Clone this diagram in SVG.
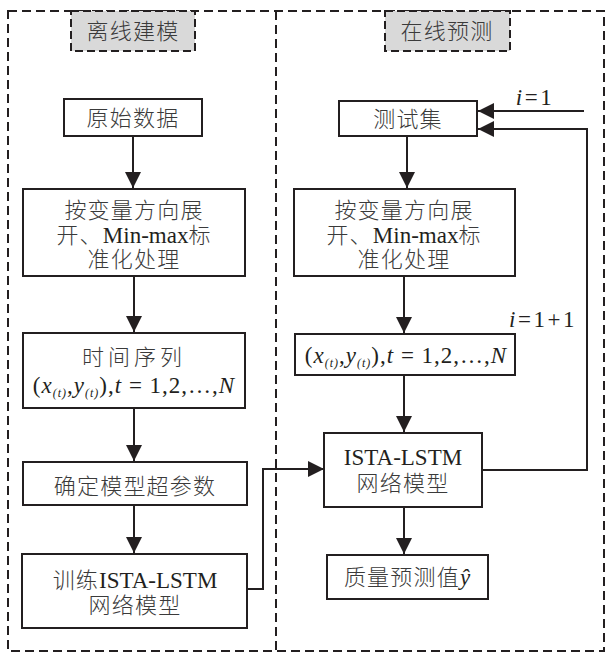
<svg xmlns="http://www.w3.org/2000/svg" width="606" height="653" viewBox="0 0 606 653">
<style>
.frame{fill:none;stroke:#231f20;stroke-width:2;stroke-dasharray:9 5}
.title{fill:#d9d9d9;stroke:#231f20;stroke-width:2;stroke-dasharray:8 4}
.box{fill:#fff;stroke:#231f20;stroke-width:2}
.line{fill:none;stroke:#231f20;stroke-width:2}
.cn{font-family:"Liberation Serif","Noto Sans CJK SC",serif;font-size:22px;font-weight:300;fill:#3a3a3a;text-anchor:middle;letter-spacing:1.2px}
.lat{font-family:"Liberation Serif","Noto Sans CJK SC",serif;font-size:23px;font-weight:400;fill:#231f20;text-anchor:middle}
.f{letter-spacing:1px}
.g{letter-spacing:2.5px}
.it{font-style:italic}
.sub{font-size:12px;font-style:italic}
</style>
<defs>
<marker id="arr" markerUnits="userSpaceOnUse" markerWidth="17" markerHeight="16" refX="16" refY="8" orient="auto">
<path d="M0,0 L16,8 L0,16 z" fill="#231f20"/>
</marker>
</defs>
<g id="frames">
<rect class="frame" x="8" y="11" width="596" height="640"/>
<line class="frame" x1="276" y1="11" x2="276" y2="651"/>
</g>
<g id="title-offline">
<rect class="title" x="71" y="11" width="124" height="40"/>
<text class="cn" x="133" y="39">离线建模</text>
</g>
<g id="title-online">
<rect class="title" x="385" y="11" width="125" height="40"/>
<text class="cn" x="447" y="39">在线预测</text>
</g>
<g id="connectors">
<line class="line" x1="133" y1="136" x2="133" y2="188" marker-end="url(#arr)"/>
<line class="line" x1="134" y1="276" x2="134" y2="332" marker-end="url(#arr)"/>
<line class="line" x1="134" y1="408" x2="134" y2="461" marker-end="url(#arr)"/>
<line class="line" x1="134" y1="505" x2="134" y2="553" marker-end="url(#arr)"/>
<polyline class="line" points="247,589 263,589 263,469 324,469" marker-end="url(#arr)"/>
<line class="line" x1="407" y1="136" x2="407" y2="188" marker-end="url(#arr)"/>
<line class="line" x1="404" y1="276" x2="404" y2="333" marker-end="url(#arr)"/>
<line class="line" x1="404" y1="375" x2="404" y2="432" marker-end="url(#arr)"/>
<line class="line" x1="404" y1="507" x2="404" y2="554" marker-end="url(#arr)"/>
<line class="line" x1="584" y1="111" x2="478" y2="111" marker-end="url(#arr)"/>
<polyline class="line" points="482,470 587,470 587,129 478,129" marker-end="url(#arr)"/>
<text class="lat g" x="535" y="105"><tspan class="it">i</tspan>=1</text>
<text class="lat g" x="543" y="327"><tspan class="it">i</tspan>=1+1</text>
</g>
<g id="n-raw">
<rect class="box" x="64" y="99" width="138" height="37"/>
<text class="cn" x="133" y="126">原始数据</text>
</g>
<g id="n-expand-left">
<rect class="box" x="23" y="189" width="222" height="87"/>
<text class="cn" x="134" y="218">按变量方向展</text>
<text class="cn" x="134" y="243">开、<tspan class="lat" style="letter-spacing:0">Min-max</tspan>标</text>
<text class="cn" x="134" y="267">准化处理</text>
</g>
<g id="n-series">
<rect class="box" x="23" y="333" width="222" height="75"/>
<text class="cn" x="134" y="365" style="letter-spacing:4px">时间序列</text>
<text class="lat f" x="134" y="393">(<tspan class="it">x</tspan><tspan class="sub" dy="4">(t)</tspan><tspan dy="-4">,</tspan><tspan class="it">y</tspan><tspan class="sub" dy="4">(t)</tspan><tspan dy="-4">),</tspan><tspan class="it">t</tspan> = 1,2,…,<tspan class="it">N</tspan></text>
</g>
<g id="n-hyper">
<rect class="box" x="23" y="462" width="224" height="43"/>
<text class="cn" x="135" y="494">确定模型超参数</text>
</g>
<g id="n-train">
<rect class="box" x="22" y="554" width="225" height="74"/>
<text class="cn" x="135" y="588">训练<tspan class="lat" style="letter-spacing:0">ISTA-LSTM</tspan></text>
<text class="cn" x="135" y="613">网络模型</text>
</g>
<g id="n-test">
<rect class="box" x="339" y="101" width="138" height="35"/>
<text class="cn" x="408" y="127">测试集</text>
</g>
<g id="n-expand-right">
<rect class="box" x="294" y="189" width="221" height="87"/>
<text class="cn" x="404" y="218">按变量方向展</text>
<text class="cn" x="404" y="243">开、<tspan class="lat" style="letter-spacing:0">Min-max</tspan>标</text>
<text class="cn" x="404" y="267">准化处理</text>
</g>
<g id="n-seq-right">
<rect class="box" x="295" y="334" width="220" height="41"/>
<text class="lat f" x="406" y="363">(<tspan class="it">x</tspan><tspan class="sub" dy="4">(t)</tspan><tspan dy="-4">,</tspan><tspan class="it">y</tspan><tspan class="sub" dy="4">(t)</tspan><tspan dy="-4">),</tspan><tspan class="it">t</tspan> = 1,2,…,<tspan class="it">N</tspan></text>
</g>
<g id="n-model">
<rect class="box" x="324" y="433" width="158" height="74"/>
<text class="lat" x="403" y="465">ISTA-LSTM</text>
<text class="cn" x="403" y="491">网络模型</text>
</g>
<g id="n-output">
<rect class="box" x="327" y="555" width="161" height="44"/>
<text class="cn" x="407" y="585">质量预测值<tspan class="lat it" style="letter-spacing:0">ŷ</tspan></text>
</g>
</svg>
